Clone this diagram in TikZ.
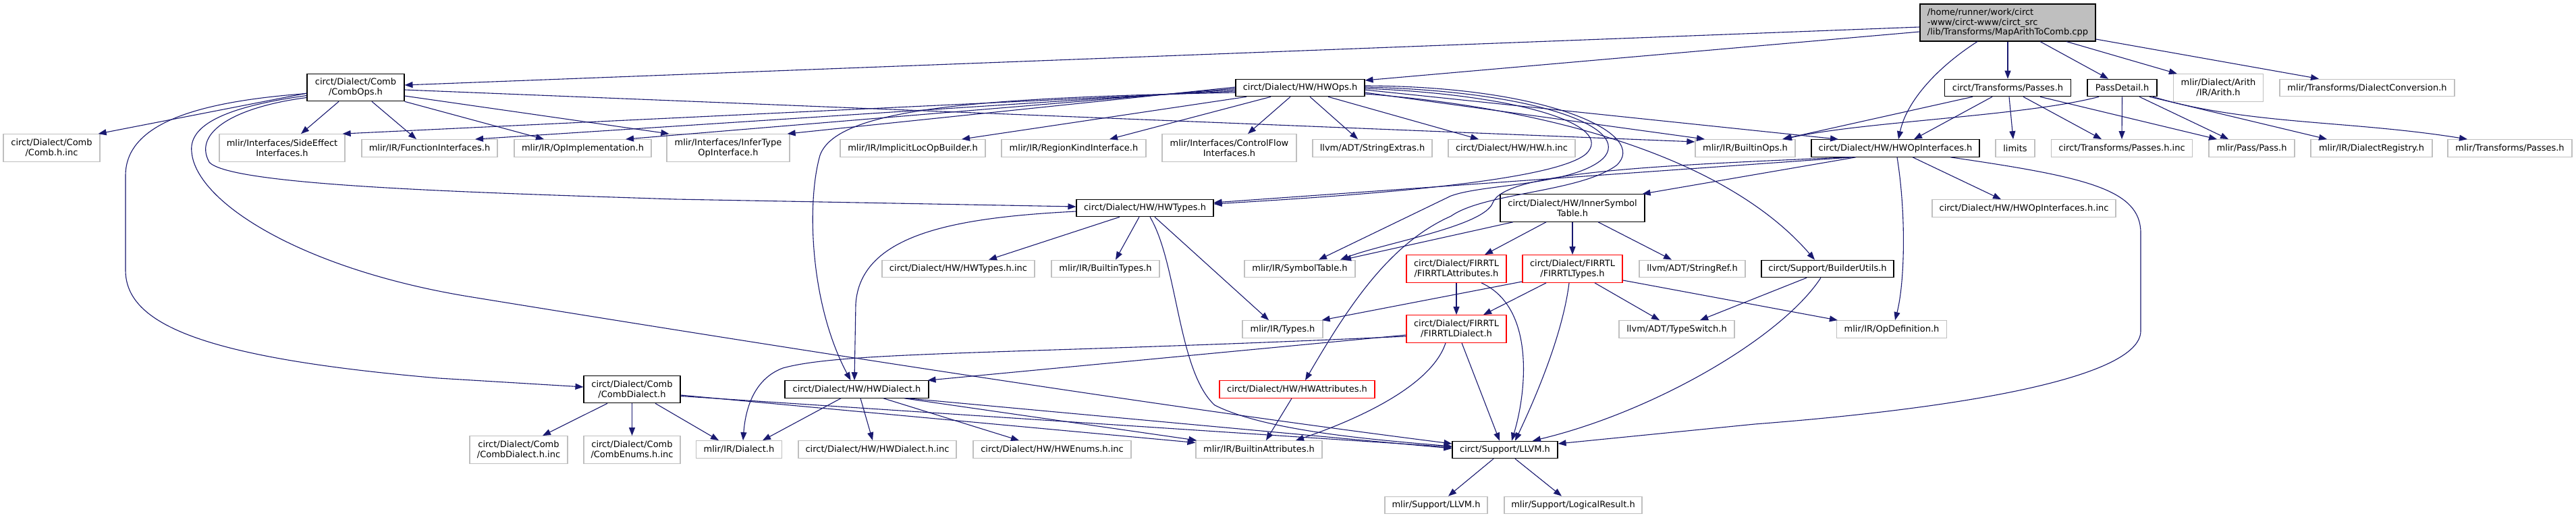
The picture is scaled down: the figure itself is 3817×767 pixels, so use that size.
\documentclass[tikz,border=0pt]{standalone}
\usepackage{fontspec}
\setmainfont{DejaVu Sans}
\usetikzlibrary{arrows.meta}
\definecolor{edgeblue}{HTML}{191970}
\definecolor{gborder}{HTML}{BFBFBF}
\definecolor{rootfill}{HTML}{BFBFBF}
\definecolor{rborder}{HTML}{FF0000}
\begin{document}
\begin{tikzpicture}[x=1pt,y=-1pt,
  nbox/.style={inner sep=0pt, font=\fontsize{13}{15}\selectfont, align=center, fill=white, line width=1.1pt},
  gext/.style={nbox, draw=gborder, line width=1.3pt},
  gdoc/.style={nbox, draw=black},
  gred/.style={nbox, draw=rborder, line width=1.3pt},
  groot/.style={nbox, draw=black, fill=rootfill, align=left, font=\fontsize{13}{14.5}\selectfont},
  lone/.style={minimum height=25.5pt},
  ltwo/.style={minimum height=40.5pt},
  dep/.style={draw=edgeblue, line width=1.1pt, -{Triangle[length=12pt,width=9pt]}},
]
\fill[white] (0,0) rectangle (3817,767);
\useasboundingbox (0,0) rectangle (3817,767);

% ---------- nodes ----------
\node[groot, minimum width=260pt, minimum height=55pt] (main) at (2975,33.5) {/home/runner/work/circt\\-www/circt-www/circt\_src\\/lib/Transforms/MapArithToComb.cpp};
\node[gdoc, ltwo, minimum width=144pt] (combops) at (527,129.5) {circt/Dialect/Comb\\/CombOps.h};
\node[gdoc, lone, minimum width=191pt] (hwops) at (1926.5,130) {circt/Dialect/HW/HWOps.h};
\node[gdoc, lone, minimum width=187pt] (tpasses) at (2975,130) {circt/Transforms/Passes.h};
\node[gdoc, lone, minimum width=103pt] (passdetail) at (3144.5,130) {PassDetail.h};
\node[gext, ltwo, minimum width=133pt] (arith) at (3287,130) {mlir/Dialect/Arith\\/IR/Arith.h};
\node[gext, lone, minimum width=259pt] (dconv) at (3507.5,130) {mlir/Transforms/DialectConversion.h};
\node[gext, ltwo, minimum width=143pt] (combhinc) at (76.5,219) {circt/Dialect/Comb\\/Comb.h.inc};
\node[gext, ltwo, minimum width=186pt] (sideeff) at (418,219) {mlir/Interfaces/SideEffect\\Interfaces.h};
\node[gext, lone, minimum width=201pt] (funcif) at (636.5,219.5) {mlir/IR/FunctionInterfaces.h};
\node[gext, lone, minimum width=203pt] (opimpl) at (863.5,219.5) {mlir/IR/OpImplementation.h};
\node[gext, ltwo, minimum width=182pt] (infer) at (1079,219) {mlir/Interfaces/InferType\\OpInterface.h};
\node[gext, lone, minimum width=215pt] (implicit) at (1352.5,219.5) {mlir/IR/ImplicitLocOpBuilder.h};
\node[gext, lone, minimum width=214pt] (regionkind) at (1591,219.5) {mlir/IR/RegionKindInterface.h};
\node[gext, ltwo, minimum width=199pt] (controlflow) at (1821.5,219) {mlir/Interfaces/ControlFlow\\Interfaces.h};
\node[gext, lone, minimum width=177pt] (strextras) at (2033.5,219.5) {llvm/ADT/StringExtras.h};
\node[gext, lone, minimum width=188pt] (hwhinc) at (2240,219.5) {circt/Dialect/HW/HW.h.inc};
\node[gext, lone, minimum width=148pt] (builtinops) at (2586,219.5) {mlir/IR/BuiltinOps.h};
\node[gdoc, lone, minimum width=249pt] (hwopif) at (2808.5,219.5) {circt/Dialect/HW/HWOpInterfaces.h};
\node[gext, lone, minimum width=58pt] (limits) at (2986,219.5) {limits};
\node[gext, lone, minimum width=209pt] (passeshinc) at (3144,219.5) {circt/Transforms/Passes.h.inc};
\node[gext, lone, minimum width=127pt] (passh) at (3336.5,219.5) {mlir/Pass/Pass.h};
\node[gext, lone, minimum width=180pt] (dialreg) at (3514,219.5) {mlir/IR/DialectRegistry.h};
\node[gext, lone, minimum width=184pt] (mtpasses) at (3719,219.5) {mlir/Transforms/Passes.h};
\node[gdoc, lone, minimum width=203pt] (hwtypes) at (1696.5,308) {circt/Dialect/HW/HWTypes.h};
\node[gdoc, ltwo, minimum width=214pt] (innersym) at (2330,308) {circt/Dialect/HW/InnerSymbol\\Table.h};
\node[gext, lone, minimum width=272pt] (hwopifinc) at (2999,308.5) {circt/Dialect/HW/HWOpInterfaces.h.inc};
\node[gext, lone, minimum width=226pt] (hwtypesinc) at (1420,398) {circt/Dialect/HW/HWTypes.h.inc};
\node[gext, lone, minimum width=160pt] (builtintypes) at (1638,398) {mlir/IR/BuiltinTypes.h};
\node[gext, lone, minimum width=164pt] (symtab) at (1926,398) {mlir/IR/SymbolTable.h};
\node[gred, ltwo, minimum width=148pt] (firattr) at (2158,398) {circt/Dialect/FIRRTL\\/FIRRTLAttributes.h};
\node[gred, ltwo, minimum width=148pt] (firtypes) at (2330,398) {circt/Dialect/FIRRTL\\/FIRRTLTypes.h};
\node[gext, lone, minimum width=157pt] (stringref) at (2507.5,398) {llvm/ADT/StringRef.h};
\node[gdoc, lone, minimum width=196pt] (builderutils) at (2708,398) {circt/Support/BuilderUtils.h};
\node[gext, lone, minimum width=119pt] (types) at (1900.5,487.5) {mlir/IR/Types.h};
\node[gred, ltwo, minimum width=148pt] (firdialect) at (2158,487) {circt/Dialect/FIRRTL\\/FIRRTLDialect.h};
\node[gext, lone, minimum width=171pt] (typeswitch) at (2484.5,487.5) {llvm/ADT/TypeSwitch.h};
\node[gext, lone, minimum width=163pt] (opdef) at (2803,487.5) {mlir/IR/OpDefinition.h};
\node[gdoc, ltwo, minimum width=143pt] (combdialect) at (936.5,576.5) {circt/Dialect/Comb\\/CombDialect.h};
\node[gdoc, lone, minimum width=213pt] (hwdialect) at (1269.5,576.5) {circt/Dialect/HW/HWDialect.h};
\node[gred, lone, minimum width=230pt] (hwattr) at (1922,576.5) {circt/Dialect/HW/HWAttributes.h};
\node[gext, ltwo, minimum width=145pt] (combdialhinc) at (768.5,666) {circt/Dialect/Comb\\/CombDialect.h.inc};
\node[gext, ltwo, minimum width=143pt] (combenums) at (936.5,666) {circt/Dialect/Comb\\/CombEnums.h.inc};
\node[gext, lone, minimum width=127pt] (dialect) at (1095,665.5) {mlir/IR/Dialect.h};
\node[gext, lone, minimum width=234pt] (hwdialhinc) at (1300,665.5) {circt/Dialect/HW/HWDialect.h.inc};
\node[gext, lone, minimum width=234pt] (hwenums) at (1559,665.5) {circt/Dialect/HW/HWEnums.h.inc};
\node[gext, lone, minimum width=187pt] (builtinattr) at (1865.5,665.5) {mlir/IR/BuiltinAttributes.h};
\node[gdoc, lone, minimum width=156pt] (llvm) at (2230,666) {circt/Support/LLVM.h};
\node[gext, lone, minimum width=152pt] (mlirllvm) at (2128,748) {mlir/Support/LLVM.h};
\node[gext, lone, minimum width=204pt] (logicalres) at (2331,748) {mlir/Support/LogicalResult.h};

% ---------- edges: main ----------
\draw[dep] ([yshift=-6.5pt]main.west) -- ([yshift=3.5pt]combops.east);
\draw[dep] ([yshift=-13.5pt]main.west) -- ([yshift=11pt]hwops.east);
\draw[dep] ([xshift=-45pt]main.south) .. controls (2870,100) and (2825,150) .. ([xshift=4.5pt]hwopif.north);
\draw[dep] (main.south) -- (tpasses.north);
\draw[dep] ([xshift=48pt]main.south) -- ([xshift=-20.5pt]passdetail.north);
\draw[dep] ([xshift=87pt]main.south) -- ([xshift=6pt]arith.north west);
\draw[dep] ([yshift=-24.5pt]main.east) -- ([xshift=-71.5pt]dconv.north);

% ---------- CombOps ----------
\draw[dep] ([yshift=-8.5pt]combops.west) -- ([xshift=-3pt]combhinc.north east);
\draw[dep] ([xshift=-25pt]combops.south) -- ([xshift=28pt]sideeff.north);
\draw[dep] ([xshift=24pt]combops.south) -- ([xshift=-19.5pt]funcif.north);
\draw[dep] (combops.south east) -- ([xshift=-57.5pt]opimpl.north);
\draw[dep] ([yshift=-12.5pt]combops.east) -- ([xshift=4pt]infer.north west);
\draw[dep] ([yshift=-3.5pt]combops.east) -- ([yshift=9.5pt]builtinops.west);
\draw[dep] ([yshift=-15pt]combops.west) .. controls (350,158) and (285,195) .. (310,240) .. controls (340,275) and (700,285) .. (1000,295) -- ([yshift=2pt]hwtypes.west);
\draw[dep] ([yshift=-9pt]combops.west) .. controls (300,150) and (186,180) .. (186,260) -- (186,400) .. controls (186,480) and (300,530) .. (650,560) -- ([yshift=3.5pt]combdialect.west);
\draw[dep] ([yshift=-12pt]combops.west) .. controls (320,160) and (280,190) .. (284,225) .. controls (290,300) and (450,400) .. (700,440) .. controls (1100,505) and (1700,600) .. ([yshift=9pt]llvm.west);

% ---------- HWOps ----------
\draw[dep] ([yshift=-5pt]hwops.west) -- ([xshift=-4pt]sideeff.north east);
\draw[dep] ([yshift=-3pt]hwops.west) -- ([xshift=67.5pt]funcif.north);
\draw[dep] ([yshift=-1pt]hwops.west) -- ([xshift=63.5pt]opimpl.north);
\draw[dep] ([yshift=1pt]hwops.west) -- ([xshift=-4pt]infer.north east);
\draw[dep] ([yshift=-7pt]hwops.west) .. controls (1450,145) and (1240,160) .. (1215,230) .. controls (1195,300) and (1200,450) .. ([xshift=-9pt]hwdialect.north);
\draw[dep] ([xshift=-79.5pt]hwops.south) -- ([xshift=72.5pt]implicit.north);
\draw[dep] ([xshift=-43.5pt]hwops.south) -- ([xshift=53pt]regionkind.north);
\draw[dep] ([xshift=-14.5pt]hwops.south) -- ([xshift=27.5pt]controlflow.north);
\draw[dep] ([xshift=14.5pt]hwops.south) -- ([xshift=-21.5pt]strextras.north);
\draw[dep] ([xshift=41.5pt]hwops.south) -- ([xshift=-49pt]hwhinc.north);
\draw[dep] ([yshift=-7pt]hwops.east) -- ([xshift=-60pt]builtinops.north);
\draw[dep] ([yshift=-3pt]hwops.east) -- ([xshift=-84.5pt]hwopif.north);
\draw[dep] ([yshift=-1pt]hwops.east) .. controls (2250,140) and (2395,185) .. (2350,228) .. controls (2300,270) and (2000,290) .. ([yshift=6pt]hwtypes.east);
\draw[dep] ([yshift=1pt]hwops.east) .. controls (2280,135) and (2420,190) .. (2375,235) .. controls (2330,275) and (2200,272) .. (2150,290) -- ([xshift=28pt]symtab.north);
\draw[dep] ([yshift=3pt]hwops.east) .. controls (2300,128) and (2445,200) .. (2395,245) .. controls (2340,285) and (2200,285) .. (2150,320) .. controls (2060,360) and (2000,450) .. ([xshift=12pt]hwattr.north);
\draw[dep] ([yshift=-9pt]hwops.east) .. controls (2300,160) and (2560,235) .. ([xshift=-19pt]builderutils.north);

% ---------- HWTypes ----------
\draw[dep] ([xshift=-37.5pt]hwtypes.south) -- ([xshift=45pt]hwtypesinc.north);
\draw[dep] ([xshift=-8.5pt]hwtypes.south) -- ([xshift=15pt]builtintypes.north);
\draw[dep] ([xshift=14.5pt]hwtypes.south) -- ([xshift=-20.5pt]types.north);
\draw[dep] ([xshift=7.5pt]hwtypes.south) .. controls (1745,390) and (1745,550) .. (1800,600) .. controls (1880,640) and (2050,652) .. ([yshift=5pt]llvm.west);
\draw[dep] ([yshift=-5pt]hwtypes.west) .. controls (1420,322) and (1275,345) .. (1268,450) -- ([xshift=-3.5pt]hwdialect.north);

% ---------- HWDialect ----------
\draw[dep] ([xshift=-23.5pt]hwdialect.south) -- ([xshift=35pt]dialect.north);
\draw[dep] ([xshift=5.5pt]hwdialect.south) -- ([xshift=-7pt]hwdialhinc.north);
\draw[dep] ([xshift=39.5pt]hwdialect.south) -- ([xshift=-49pt]hwenums.north);
\draw[dep] ([xshift=70.5pt]hwdialect.south) -- ([xshift=2pt]builtinattr.north west);
\draw[dep] ([xshift=75.5pt]hwdialect.south) -- ([yshift=2pt]llvm.west);

% ---------- CombDialect ----------
\draw[dep] ([xshift=-36.5pt]combdialect.south) -- ([xshift=35.5pt]combdialhinc.north);
\draw[dep] (combdialect.south) -- (combenums.north);
\draw[dep] ([xshift=34.5pt]combdialect.south) -- ([xshift=-30pt]dialect.north);
\draw[dep] ([yshift=-8.5pt]combdialect.east) -- ([yshift=10pt]builtinattr.west);
\draw[dep] ([yshift=-10pt]combdialect.east) -- ([yshift=4pt]llvm.west);

% ---------- HWAttributes ----------
\draw[dep] ([xshift=-8pt]hwattr.south) -- ([xshift=10.5pt]builtinattr.north);

% ---------- FIRRTL ----------
\draw[dep] ([yshift=-9pt]firdialect.west) -- ([xshift=-2pt]hwdialect.north east);
\draw[dep] ([yshift=-11pt]firdialect.west) .. controls (1500,525) and (1250,520) .. (1160,545) .. controls (1120,560) and (1105,600) .. ([xshift=6pt]dialect.north);
\draw[dep] ([xshift=8pt]firdialect.south) -- ([xshift=-8pt]llvm.north);
\draw[dep] ([xshift=-16pt]firdialect.south) .. controls (2120,575) and (2000,625) .. ([xshift=54.5pt]builtinattr.north);
\draw[dep] (firattr.south) -- (firdialect.north);
\draw[dep] ([xshift=37pt]firattr.south) .. controls (2275,455) and (2262,580) .. ([xshift=10pt]llvm.north);
\draw[dep] ([xshift=-39pt]firtypes.south) -- ([xshift=40pt]firdialect.north);
\draw[dep] ([xshift=-5pt]firtypes.south) .. controls (2315,500) and (2270,600) .. ([xshift=15pt]llvm.north);
\draw[dep] ([xshift=33pt]firtypes.south) -- ([xshift=-25.5pt]typeswitch.north);
\draw[dep] ([yshift=-17pt]firtypes.east) -- ([xshift=2pt]opdef.north west);
\draw[dep] ([yshift=-19pt]firtypes.west) -- ([xshift=-2pt]types.north east);

% ---------- InnerSymbolTable ----------
\draw[dep] ([xshift=-88pt]innersym.south) -- ([xshift=64pt]symtab.north);
\draw[dep] ([xshift=-39pt]innersym.south) -- ([xshift=42pt]firattr.north);
\draw[dep] (innersym.south) -- (firtypes.north);
\draw[dep] ([xshift=38pt]innersym.south) -- ([xshift=-30.5pt]stringref.north);

% ---------- BuilderUtils ----------
\draw[dep] ([xshift=-31pt]builderutils.south) -- ([xshift=34.5pt]typeswitch.north);
\draw[dep] ([xshift=-10pt]builderutils.south) .. controls (2640,500) and (2450,610) .. ([xshift=41pt]llvm.north);

% ---------- HWOpInterfaces ----------
\draw[dep] ([xshift=-63.5pt]hwopif.south) -- ([yshift=8pt]hwtypes.east);
\draw[dep] ([xshift=-58.5pt]hwopif.south) -- ([xshift=-4pt]innersym.north east);
\draw[dep] ([xshift=-68.5pt]hwopif.south) .. controls (2450,245) and (2230,255) .. (2212,300) .. controls (2200,335) and (2050,360) .. ([xshift=60pt]symtab.north);
\draw[dep] ([xshift=25.5pt]hwopif.south) -- ([xshift=-34pt]hwopifinc.north);
\draw[dep] ([xshift=2.5pt]hwopif.south) .. controls (2825,320) and (2822,420) .. ([xshift=5pt]opdef.north);
\draw[dep] ([xshift=81.5pt]hwopif.south) .. controls (3090,262) and (3172,280) .. (3172,345) -- (3172,490) .. controls (3172,560) and (2900,605) .. (2600,628) -- ([yshift=9pt]llvm.east);

% ---------- Transforms/Passes ----------
\draw[dep] ([xshift=-52pt]tpasses.south) -- ([xshift=55pt]builtinops.north);
\draw[dep] ([xshift=-23pt]tpasses.south) -- ([xshift=27.5pt]hwopif.north);
\draw[dep] ([xshift=2pt]tpasses.south) -- ([xshift=-3pt]limits.north);
\draw[dep] ([xshift=23pt]tpasses.south) -- ([xshift=-30pt]passeshinc.north);
\draw[dep] ([xshift=48pt]tpasses.south) -- ([xshift=-51.5pt]passh.north);

% ---------- PassDetail ----------
\draw[dep] ([xshift=-34.5pt]passdetail.south) .. controls (3000,172) and (2760,180) .. ([xshift=57pt]builtinops.north);
\draw[dep] (passdetail.south) -- (passeshinc.north);
\draw[dep] ([xshift=25.5pt]passdetail.south) -- ([xshift=-34.5pt]passh.north);
\draw[dep] ([xshift=40.5pt]passdetail.south) -- ([xshift=-66pt]dialreg.north);
\draw[dep] ([xshift=45.5pt]passdetail.south) .. controls (3330,185) and (3480,178) .. ([xshift=-63pt]mtpasses.north);

% ---------- LLVM ----------
\draw[dep] ([xshift=-17pt]llvm.south) -- ([xshift=18pt]mlirllvm.north);
\draw[dep] ([xshift=15pt]llvm.south) -- ([xshift=-17pt]logicalres.north);
\end{tikzpicture}
\end{document}
